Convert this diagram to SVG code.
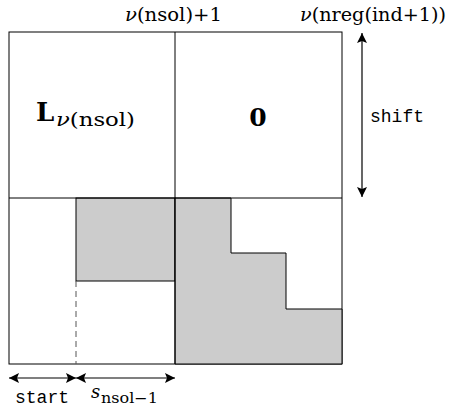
<svg xmlns="http://www.w3.org/2000/svg" width="449" height="414" viewBox="0 0 449 414">
<style>
.ln{fill:none;stroke:#000;stroke-width:1}
.gr{fill:#ccc;stroke:#000;stroke-width:1}
.rm{font-family:"DejaVu Serif","Liberation Serif",serif;fill:#000}
.tt{font-family:"Liberation Mono","DejaVu Sans Mono",monospace;fill:#000;font-size:18px}
.ar{stroke:#000;stroke-width:1.2;fill:none;marker-start:url(#ah);marker-end:url(#ah)}
</style>
<defs>
<marker id="ah" viewBox="0 0 10 10" refX="10" refY="5" markerWidth="12" markerHeight="10" markerUnits="userSpaceOnUse" orient="auto-start-reverse">
<path d="M0,0 L10,5 L0,10 L2,5 Z" fill="#000"/>
</marker>
</defs>
<rect width="449" height="414" fill="#fff"/>
<g id="matrix">
<rect x="9" y="32" width="333" height="332" class="ln"/>
<rect x="76" y="198" width="99" height="83" class="gr"/>
<path d="M175,198 H231 V253 H286 V309 H342 V364 H175 Z" class="gr"/>
<line x1="9" y1="198" x2="342" y2="198" class="ln"/>
<line x1="175" y1="32" x2="175" y2="364" class="ln"/>
<line x1="76" y1="281" x2="76" y2="364" stroke="#555" stroke-width="1" stroke-dasharray="6,4"/>
</g>
<g id="labels">
<text x="36" y="121" class="rm" font-weight="bold" font-size="26">L</text>
<text x="56" y="126" class="rm" font-size="19" textLength="79" lengthAdjust="spacingAndGlyphs"><tspan font-style="italic">ν</tspan>(nsol)</text>
<text x="258" y="126" text-anchor="middle" class="rm" font-weight="bold" font-size="25">0</text>
<text x="125" y="21" class="rm" font-size="19" textLength="97" lengthAdjust="spacingAndGlyphs"><tspan font-style="italic">ν</tspan>(nsol)+1</text>
<text x="300" y="21" class="rm" font-size="19" textLength="146" lengthAdjust="spacingAndGlyphs"><tspan font-style="italic">ν</tspan>(nreg(ind+1))</text>
<text x="370" y="122" class="tt" textLength="54" lengthAdjust="spacingAndGlyphs">shift</text>
<text x="15" y="403" class="tt" textLength="54" lengthAdjust="spacingAndGlyphs">start</text>
<text x="91" y="398" class="rm" font-style="italic" font-size="18">s</text>
<text x="101" y="403" class="rm" font-size="14" textLength="57" lengthAdjust="spacingAndGlyphs">nsol−1</text>
</g>
<g id="connectors">
<line x1="362" y1="33" x2="362" y2="197" class="ar" stroke="#666"/>
<line x1="9" y1="378" x2="76" y2="378" class="ar"/>
<line x1="76" y1="378" x2="175" y2="378" class="ar"/>
</g>
</svg>
